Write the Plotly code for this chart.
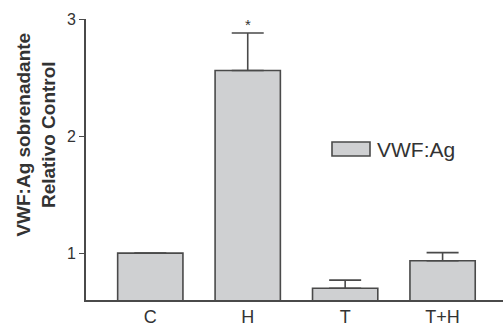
import plotly.graph_objects as go

categories = ["C", "H", "T", "T+H"]
values = [1.0, 2.56, 0.70, 0.935]
errors = [0.0, 0.32, 0.07, 0.07]
series_name = "VWF:Ag"
y_ticks = [1, 2, 3]

line_col = "#4a4a4a"
bar_col = "#cfd0d2"

fig = go.Figure()
fig.add_trace(go.Bar(
    x=categories, y=values, base=0,
    marker=dict(color=bar_col, line=dict(color=line_col, width=1.6)),
    width=0.67,
    error_y=dict(type="data", symmetric=False, array=errors,
                 arrayminus=[0]*len(errors), color=line_col,
                 thickness=1.6, width=16),
    name=series_name, showlegend=False,
))

fig.update_layout(
    width=503, height=331,
    margin=dict(l=86, r=0, t=19, b=31),
    plot_bgcolor="white", paper_bgcolor="white",
    font=dict(family="Liberation Sans, Arial, sans-serif", color="#333"),
    xaxis=dict(range=[-0.66, 3.62], showline=True, linecolor=line_col,
               linewidth=1.6, ticks="", showgrid=False, zeroline=False,
               tickfont=dict(size=18, color="#333")),
    yaxis=dict(range=[0.6, 3], showline=True, linecolor=line_col,
               linewidth=1.6, ticks="outside", ticklen=5, tickcolor=line_col,
               tickwidth=1.4, tickvals=y_ticks, showgrid=False,
               zeroline=False, tickfont=dict(size=16, color="#333")),
    bargap=0.33,
)

# asterisk for significance
fig.add_annotation(x=categories[1], y=values[1] + errors[1], text="*",
                   showarrow=False, yshift=9, font=dict(size=15, color="#333"))

# y-axis title (two lines)
fig.add_annotation(xref="paper", yref="paper", x=-0.119, y=0.59,
                   xanchor="center", yanchor="middle",
                   text="<b>VWF:Ag sobrenadante<br>Relativo Control</b>",
                   textangle=-90, showarrow=False,
                   font=dict(size=19, color="#333"))

# custom legend
fig.add_shape(type="rect", xref="paper", yref="paper",
              x0=(332-86)/417, x1=(370-86)/417,
              y0=(300-156)/281, y1=(300-142)/281,
              fillcolor=bar_col, line=dict(color=line_col, width=1.6))
fig.add_annotation(xref="paper", yref="paper", x=(375-86)/417,
                   y=(300-149)/281, xanchor="left", yanchor="middle",
                   text=series_name, showarrow=False,
                   font=dict(size=21, color="#333"))

fig.write_html("out.html")
